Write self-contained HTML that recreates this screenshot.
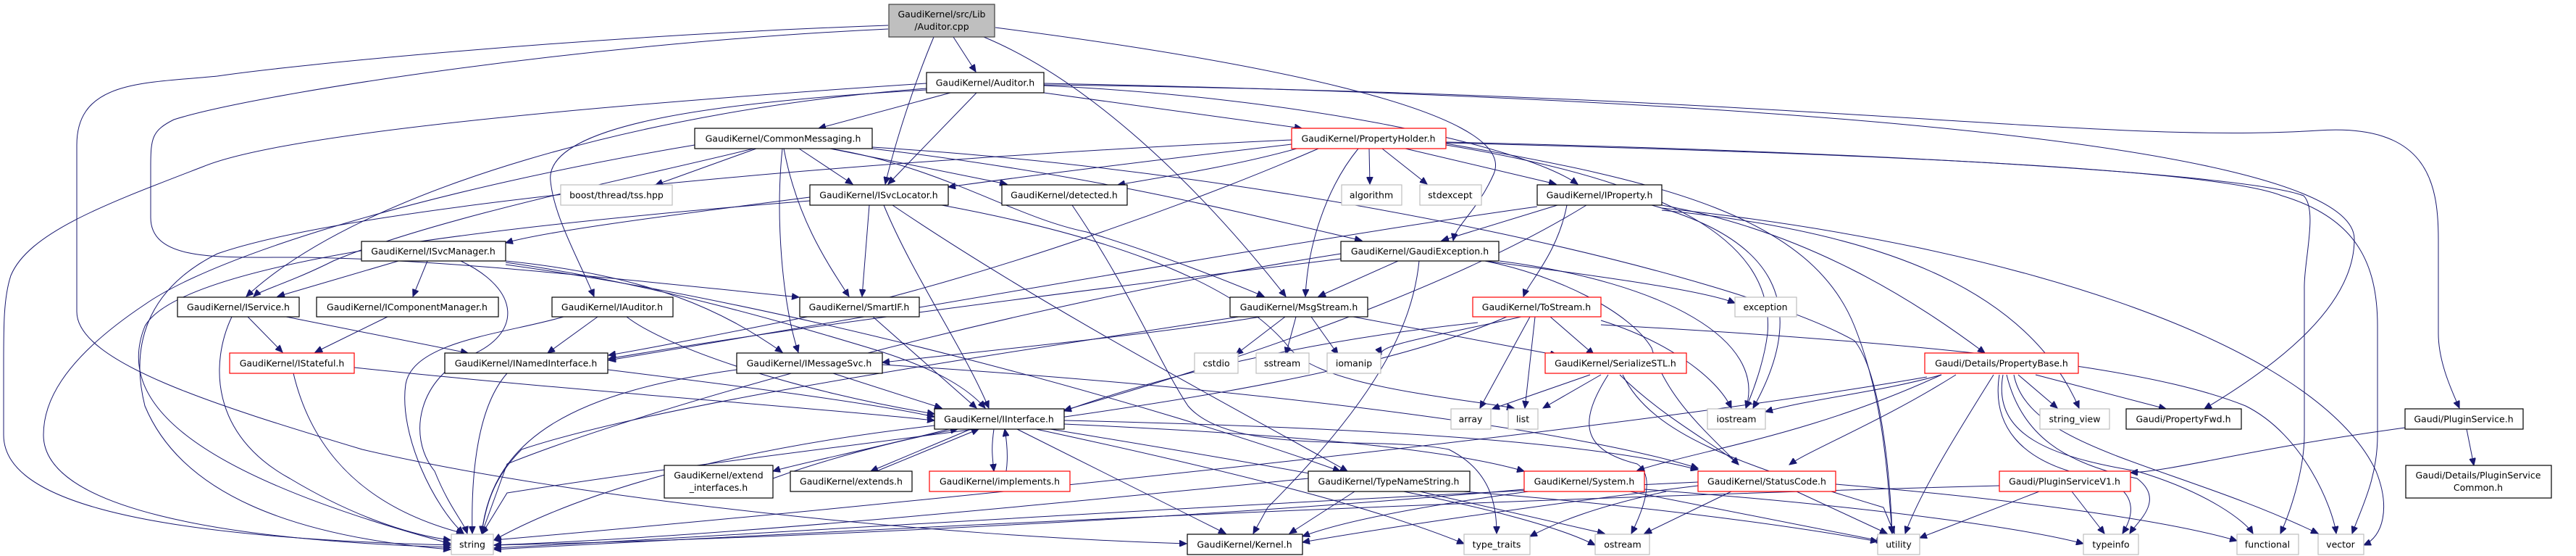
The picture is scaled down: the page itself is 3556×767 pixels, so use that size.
<!DOCTYPE html>
<html><head><meta charset="utf-8"><style>
html,body{margin:0;padding:0;background:#fff;}
svg{display:block;}
text{font-family:"DejaVu Sans","Liberation Sans",sans-serif;font-size:12.5px;fill:#000;}
.e{fill:none;stroke:#191970;stroke-width:1;marker-end:url(#a);}
.n{fill:#fff;stroke:#000;stroke-width:1.2;}
.g{fill:#fff;stroke:#bfbfbf;stroke-width:1.2;}
.r{fill:#fff;stroke:#ff0000;stroke-width:1.2;}
</style></head><body>
<svg width="3556" height="767" viewBox="0 0 3556 767" xmlns="http://www.w3.org/2000/svg">
<defs><marker id="a" markerUnits="userSpaceOnUse" markerWidth="11" markerHeight="9" refX="10" refY="4.5" orient="auto"><path d="M0,0 L10,4.5 L0,9 z" fill="#191970" stroke="#191970"/></marker></defs>
<g>
<path class="e" d="M1316 51 L1347 99"/>
<path class="e" d="M1289 51 C1260 120 1235 200 1222 254"/>
<path class="e" d="M1358 51 C1500 110 1650 250 1775 409"/>
<path class="e" d="M1374 38 C1700 80 2100 150 2062 240 C2040 290 2010 310 2006 332"/>
<path class="e" d="M1226 35 C800 50 400 90 300 105 C200 115 106 110 106 200 L106 430 C106 500 300 560 500 620 C800 690 1300 740 1638 750"/>
<path class="e" d="M1226 40 C800 60 350 130 240 165 C210 180 208 190 208 230 L208 300 C208 360 300 355 400 355 C600 355 900 390 1103 410"/>
<path class="e" d="M1279 115 C900 140 400 180 280 230 C150 280 40 320 15 380 C5 410 5 450 5 500 L5 600 C5 680 150 740 622 752"/>
<path class="e" d="M1312 128 L1130 177"/>
<path class="e" d="M1348 128 L1226 254"/>
<path class="e" d="M1441 128 C1600 150 1750 170 1797 177"/>
<path class="e" d="M1441 118 C1800 135 2100 200 2178 254"/>
<path class="e" d="M1279 122 C900 150 500 260 340 409"/>
<path class="e" d="M1279 124 C1000 140 750 170 760 250 C765 300 800 360 820 409"/>
<path class="e" d="M1441 115 C2200 130 3250 180 3250 330 C3250 420 3150 500 3043 564"/>
<path class="e" d="M1441 117 C2500 130 2900 200 3200 180 C3350 170 3366 250 3366 330 L3366 460 C3366 500 3385 540 3395 563"/>
<path class="e" d="M1044 205 L905 255"/>
<path class="e" d="M1103 205 L1177 254"/>
<path class="e" d="M1146 205 L1390 254"/>
<path class="e" d="M1082 205 C1100 300 1140 360 1172 409"/>
<path class="e" d="M1080 205 C1070 300 1080 420 1102 486"/>
<path class="e" d="M1146 205 C1300 230 1400 300 1500 320 C1600 350 1700 390 1745 409"/>
<path class="e" d="M1040 205 C900 240 600 300 460 360 C400 390 360 400 350 409"/>
<path class="e" d="M959 200 C600 260 300 350 200 420 C80 500 60 560 60 600 C60 700 300 745 622 755"/>
<path class="e" d="M1204 205 C1500 240 1700 290 1880 332"/>
<path class="e" d="M1204 203 C1800 240 2400 380 2560 470 C2600 520 2610 680 2612 736"/>
<path class="e" d="M1783 199 C1600 220 1400 245 1309 258"/>
<path class="e" d="M1790 205 C1700 230 1600 245 1543 255"/>
<path class="e" d="M1890 205 L1891 254"/>
<path class="e" d="M1908 205 L1970 254"/>
<path class="e" d="M1940 205 L2148 254"/>
<path class="e" d="M1875 205 C1830 260 1805 340 1802 409"/>
<path class="e" d="M1820 205 C1600 300 1300 400 1100 440 C1000 460 900 480 840 490"/>
<path class="e" d="M1783 193 C1200 220 500 280 300 350 C200 400 180 480 200 560 C250 680 400 740 622 758"/>
<path class="e" d="M1996 200 C2300 250 2450 330 2440 460 C2435 500 2420 540 2410 563"/>
<path class="e" d="M1996 198 C2300 250 2500 300 2560 450 C2600 550 2605 650 2612 736"/>
<path class="e" d="M1996 197 C2500 210 3050 230 3150 270 C3250 300 3282 360 3282 450 L3282 600 C3282 660 3260 700 3247 736"/>
<path class="e" d="M1996 196 C2600 210 3100 240 3180 270 C3200 290 3180 360 3181 400 L3181 600 C3181 650 3160 710 3148 736"/>
<path class="e" d="M1118 272 C900 300 750 320 698 335"/>
<path class="e" d="M1200 283 L1190 409"/>
<path class="e" d="M1220 283 C1260 380 1330 480 1365 563"/>
<path class="e" d="M1232 283 C1450 430 1700 560 1860 650"/>
<path class="e" d="M1300 283 C1500 320 1700 380 1780 480 C1820 530 1980 545 2090 563"/>
<path class="e" d="M1118 277 C700 310 250 360 200 450 C160 550 250 650 622 750"/>
<path class="e" d="M1480 283 C1560 400 1600 500 1640 560 C1700 630 1900 600 2000 620 C2060 650 2066 700 2066 736"/>
<path class="e" d="M550 360 L383 409"/>
<path class="e" d="M590 360 L570 409"/>
<path class="e" d="M636 360 C720 400 720 460 650 490 C580 520 560 600 600 650 C620 700 640 720 645 736"/>
<path class="e" d="M698 360 C900 380 1000 430 1080 486"/>
<path class="e" d="M698 362 C900 390 1100 450 1200 480 C1300 510 1340 540 1360 563"/>
<path class="e" d="M698 365 C1100 420 1600 560 1850 650"/>
<path class="e" d="M342 437 L390 486"/>
<path class="e" d="M395 437 L646 487"/>
<path class="e" d="M320 437 C290 500 290 600 400 660 C500 720 580 740 622 745"/>
<path class="e" d="M535 437 L435 486"/>
<path class="e" d="M825 437 L756 487"/>
<path class="e" d="M865 437 C920 480 1100 540 1290 571"/>
<path class="e" d="M778 437 C700 460 570 470 560 530 C550 600 600 700 640 736"/>
<path class="e" d="M1205 437 L1348 563"/>
<path class="e" d="M1774 437 L1706 489"/>
<path class="e" d="M1789 437 L1775 489"/>
<path class="e" d="M1810 437 L1847 489"/>
<path class="e" d="M1868 437 L2150 490"/>
<path class="e" d="M1740 437 C1600 460 1400 480 1218 500"/>
<path class="e" d="M1710 437 C1300 500 900 560 720 620 C680 660 670 700 665 736"/>
<path class="e" d="M1930 360 L1820 409"/>
<path class="e" d="M2050 360 C2200 380 2350 400 2395 418"/>
<path class="e" d="M1959 360 C1950 450 1900 550 1750 700 L1730 736"/>
<path class="e" d="M2050 360 C2150 380 2250 430 2280 480 C2300 550 2360 600 2400 641"/>
<path class="e" d="M1851 350 C1400 420 900 560 700 640 L665 736"/>
<path class="e" d="M2070 360 C2300 390 2440 470 2410 563"/>
<path class="e" d="M1851 357 C1500 400 1100 450 840 495"/>
<path class="e" d="M2150 283 L1990 332"/>
<path class="e" d="M2163 283 C2150 350 2110 390 2103 409"/>
<path class="e" d="M2294 283 C2500 320 2650 420 2740 487"/>
<path class="e" d="M2280 283 C2450 330 2500 420 2420 563"/>
<path class="e" d="M2294 290 C2600 320 2800 400 2870 563"/>
<path class="e" d="M2294 287 C2800 340 3200 480 3280 650 C3300 700 3290 740 3263 752"/>
<path class="e" d="M2122 285 C1800 330 1300 420 840 497"/>
<path class="e" d="M2190 283 C2000 400 1700 500 1469 566"/>
<path class="e" d="M2100 437 C2000 460 1900 475 1907 489"/>
<path class="e" d="M2140 437 L2200 489"/>
<path class="e" d="M2112 437 L2043 563"/>
<path class="e" d="M2119 437 L2105 563"/>
<path class="e" d="M2210 442 C2300 470 2370 520 2390 563"/>
<path class="e" d="M2210 448 C2800 480 3000 520 3100 560 C3180 600 3220 700 3225 736"/>
<path class="e" d="M2080 437 C1800 560 1200 600 700 680 L665 737"/>
<path class="e" d="M2040 445 C1800 470 1600 520 1469 567"/>
<path class="e" d="M2195 517 L2060 564"/>
<path class="e" d="M2210 517 L2130 563"/>
<path class="e" d="M2220 517 C2180 580 2180 620 2260 640 C2290 660 2260 720 2252 736"/>
<path class="e" d="M2240 517 C2280 600 2400 640 2600 700 L2615 736"/>
<path class="e" d="M2236 517 C2300 580 2380 620 2400 641"/>
<path class="e" d="M2680 517 C2600 540 2500 550 2437 568"/>
<path class="e" d="M2786 517 L2840 563"/>
<path class="e" d="M2810 517 L2990 564"/>
<path class="e" d="M2700 517 C2600 580 2500 620 2470 641"/>
<path class="e" d="M2680 517 C2500 600 2350 620 2260 649"/>
<path class="e" d="M2760 517 C2750 580 2780 640 2900 660 C2960 680 2940 720 2930 736"/>
<path class="e" d="M2770 517 C2790 600 2850 640 2950 660 C2990 690 2950 720 2940 736"/>
<path class="e" d="M2765 517 C2750 600 2830 630 2950 650 C3050 680 3100 720 3110 736"/>
<path class="e" d="M2780 517 C2800 620 3000 640 3200 736"/>
<path class="e" d="M2752 517 C2700 600 2650 680 2630 736"/>
<path class="e" d="M2660 520 C2200 600 1200 700 682 745"/>
<path class="e" d="M1310 592 C1200 620 1100 640 1067 650"/>
<path class="e" d="M1067 660 C1150 630 1250 605 1322 592"/>
<path class="e" d="M1340 592 L1202 650"/>
<path class="e" d="M1210 650 L1351 592"/>
<path class="e" d="M1372 592 C1368 620 1370 630 1372 650"/>
<path class="e" d="M1389 650 C1392 630 1390 610 1387 592"/>
<path class="e" d="M1404 592 L1692 736"/>
<path class="e" d="M1469 585 C1800 600 2000 620 2104 650"/>
<path class="e" d="M1469 580 C1900 590 2200 610 2344 648"/>
<path class="e" d="M1430 592 C1700 650 1900 700 2021 750"/>
<path class="e" d="M1450 592 C1800 650 2100 700 2202 752"/>
<path class="e" d="M1290 587 C1000 620 800 680 682 745"/>
<path class="e" d="M1806 660 C1400 700 1000 740 682 752"/>
<path class="e" d="M1870 678 L1780 736"/>
<path class="e" d="M1960 678 L2215 736"/>
<path class="e" d="M2020 678 C2300 700 2500 730 2592 747"/>
<path class="e" d="M2104 675 C1600 720 1000 745 682 752"/>
<path class="e" d="M2110 678 C1950 700 1850 720 1798 740"/>
<path class="e" d="M2270 675 C2600 700 2800 730 2876 750"/>
<path class="e" d="M2250 678 L2600 747"/>
<path class="e" d="M2300 678 C2200 700 2150 720 2112 740"/>
<path class="e" d="M2390 678 L2270 736"/>
<path class="e" d="M2480 678 L2605 736"/>
<path class="e" d="M2344 670 C2100 700 1900 730 1798 748"/>
<path class="e" d="M2534 668 C2800 690 3000 720 3088 746"/>
<path class="e" d="M2344 665 C1600 700 1000 740 682 756"/>
<path class="e" d="M2860 678 L2905 736"/>
<path class="e" d="M2815 678 L2650 742"/>
<path class="e" d="M2760 670 C2000 690 1200 730 682 758"/>
<path class="e" d="M3320 590 C3100 620 3000 650 2941 652"/>
<path class="e" d="M3405 592 L3415 642"/>
<path class="e" d="M489 507 C800 540 1100 560 1290 580"/>
<path class="e" d="M839 510 C1000 530 1200 555 1290 575"/>
<path class="e" d="M405 515 C430 620 500 700 640 736"/>
<path class="e" d="M700 515 C660 560 650 650 652 736"/>
<path class="e" d="M1150 515 L1300 563"/>
<path class="e" d="M1017 510 C800 540 680 600 665 736"/>
<path class="e" d="M1218 503 C1800 540 2200 600 2344 646"/>
</g>
<g text-anchor="middle">
<rect x="1227" y="6" width="146" height="45" fill="#bfbfbf" stroke="#404040" stroke-width="1.2"/>
<text x="1300" y="24">GaudiKernel/src/Lib</text><text x="1300" y="41">/Auditor.cpp</text>
<rect class="n" x="1279" y="100" width="162" height="28"/><text x="1360" y="118.5">GaudiKernel/Auditor.h</text>
<rect class="n" x="959" y="177" width="245" height="28"/><text x="1081" y="195.5">GaudiKernel/CommonMessaging.h</text>
<rect class="r" x="1783" y="177" width="213" height="28"/><text x="1889" y="195.5">GaudiKernel/PropertyHolder.h</text>
<rect class="g" x="774" y="255" width="154" height="28"/><text x="851" y="273.5">boost/thread/tss.hpp</text>
<rect class="n" x="1118" y="255" width="191" height="28"/><text x="1213" y="273.5">GaudiKernel/ISvcLocator.h</text>
<rect class="n" x="1383" y="255" width="173" height="28"/><text x="1469" y="273.5">GaudiKernel/detected.h</text>
<rect class="g" x="1852" y="255" width="83" height="28"/><text x="1893" y="273.5">algorithm</text>
<rect class="g" x="1960" y="255" width="85" height="28"/><text x="2002" y="273.5">stdexcept</text>
<rect class="n" x="2122" y="255" width="172" height="28"/><text x="2208" y="273.5">GaudiKernel/IProperty.h</text>
<rect class="n" x="499" y="333" width="199" height="27"/><text x="598" y="351">GaudiKernel/ISvcManager.h</text>
<rect class="n" x="1851" y="333" width="218" height="27"/><text x="1960" y="351">GaudiKernel/GaudiException.h</text>
<rect class="n" x="245" y="410" width="168" height="27"/><text x="329" y="428">GaudiKernel/IService.h</text>
<rect class="n" x="437" y="410" width="251" height="27"/><text x="562" y="428">GaudiKernel/IComponentManager.h</text>
<rect class="n" x="762" y="410" width="167" height="27"/><text x="845" y="428">GaudiKernel/IAuditor.h</text>
<rect class="n" x="1104" y="410" width="165" height="27"/><text x="1186" y="428">GaudiKernel/SmartIF.h</text>
<rect class="n" x="1698" y="410" width="190" height="27"/><text x="1793" y="428">GaudiKernel/MsgStream.h</text>
<rect class="r" x="2033" y="410" width="177" height="27"/><text x="2121" y="428">GaudiKernel/ToStream.h</text>
<rect class="g" x="2395" y="410" width="85" height="27"/><text x="2437" y="428">exception</text>
<rect class="r" x="317" y="487" width="172" height="28"/><text x="403" y="505.5">GaudiKernel/IStateful.h</text>
<rect class="n" x="614" y="487" width="225" height="28"/><text x="726" y="505.5">GaudiKernel/INamedInterface.h</text>
<rect class="n" x="1017" y="487" width="201" height="28"/><text x="1117" y="505.5">GaudiKernel/IMessageSvc.h</text>
<rect class="g" x="1649" y="487" width="60" height="28"/><text x="1679" y="505.5">cstdio</text>
<rect class="g" x="1734" y="487" width="73" height="28"/><text x="1770" y="505.5">sstream</text>
<rect class="g" x="1832" y="487" width="74" height="28"/><text x="1869" y="505.5">iomanip</text>
<rect class="r" x="2133" y="487" width="195" height="28"/><text x="2230" y="505.5">GaudiKernel/SerializeSTL.h</text>
<rect class="r" x="2657" y="487" width="212" height="28"/><text x="2763" y="505.5">Gaudi/Details/PropertyBase.h</text>
<rect class="n" x="1290" y="564" width="179" height="28"/><text x="1379" y="582.5">GaudiKernel/IInterface.h</text>
<rect class="g" x="2003" y="564" width="55" height="28"/><text x="2030" y="582.5">array</text>
<rect class="g" x="2082" y="564" width="41" height="28"/><text x="2102" y="582.5">list</text>
<rect class="g" x="2357" y="564" width="80" height="28"/><text x="2397" y="582.5">iostream</text>
<rect class="g" x="2816" y="564" width="96" height="28"/><text x="2864" y="582.5">string_view</text>
<rect class="n" x="2935" y="564" width="159" height="28"/><text x="3014" y="582.5">Gaudi/PropertyFwd.h</text>
<rect class="n" x="3320" y="564" width="163" height="28"/><text x="3401" y="582.5">Gaudi/PluginService.h</text>
<rect class="n" x="917" y="642" width="150" height="45"/><text x="992" y="660">GaudiKernel/extend</text><text x="992" y="677">_interfaces.h</text>
<rect class="n" x="1091" y="650" width="168" height="28"/><text x="1175" y="668.5">GaudiKernel/extends.h</text>
<rect class="r" x="1283" y="650" width="194" height="28"/><text x="1380" y="668.5">GaudiKernel/implements.h</text>
<rect class="n" x="1806" y="650" width="223" height="28"/><text x="1917" y="668.5">GaudiKernel/TypeNameString.h</text>
<rect class="r" x="2104" y="650" width="166" height="28"/><text x="2187" y="668.5">GaudiKernel/System.h</text>
<rect class="r" x="2344" y="650" width="190" height="28"/><text x="2439" y="668.5">GaudiKernel/StatusCode.h</text>
<rect class="r" x="2760" y="650" width="181" height="28"/><text x="2850" y="668.5">Gaudi/PluginServiceV1.h</text>
<rect class="n" x="3321" y="642" width="201" height="45"/><text x="3421" y="660">Gaudi/Details/PluginService</text><text x="3421" y="677">Common.h</text>
<rect class="g" x="623" y="737" width="58" height="28"/><text x="652" y="755.5">string</text>
<rect class="n" x="1639" y="737" width="159" height="28"/><text x="1718" y="755.5">GaudiKernel/Kernel.h</text>
<rect class="g" x="2021" y="737" width="91" height="28"/><text x="2066" y="755.5">type_traits</text>
<rect class="g" x="2202" y="737" width="75" height="28"/><text x="2240" y="755.5">ostream</text>
<rect class="g" x="2592" y="737" width="58" height="28"/><text x="2621" y="755.5">utility</text>
<rect class="g" x="2876" y="737" width="76" height="28"/><text x="2914" y="755.5">typeinfo</text>
<rect class="g" x="3088" y="737" width="85" height="28"/><text x="3130" y="755.5">functional</text>
<rect class="g" x="3200" y="737" width="63" height="28"/><text x="3231" y="755.5">vector</text>
</g>
</svg>
</body></html>
